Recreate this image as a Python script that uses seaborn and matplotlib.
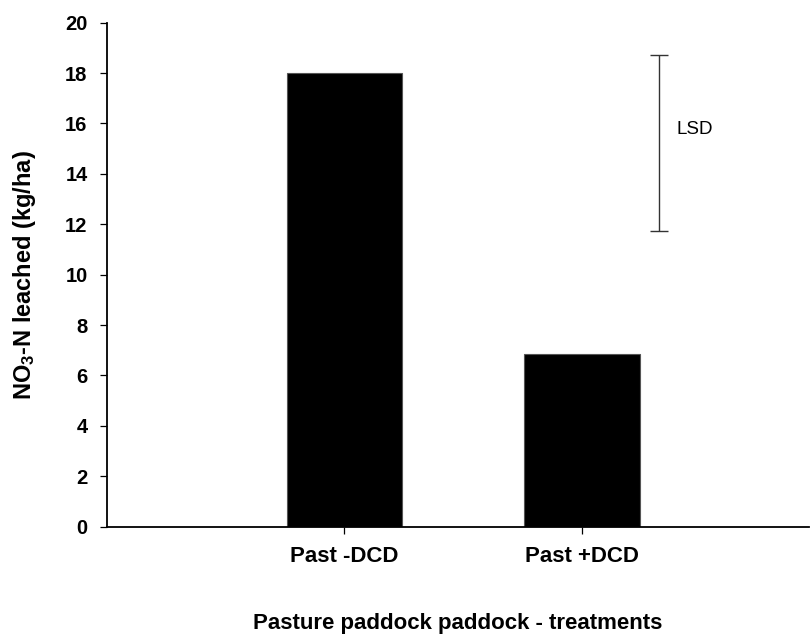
import pandas as pd
import matplotlib
matplotlib.use("Agg")
import matplotlib.pyplot as plt
import seaborn as sns

# =============================================================================
# DATA
# =============================================================================

TREATMENTS = ['Past -DCD', 'Past +DCD']
NO3_LEACHED = [18.0, 6.85]          # kg/ha
LSD_LOW = 11.73                     # LSD bar, bottom end
LSD_HIGH = 18.72                    # LSD bar, top end
Y_TICKS = list(range(0, 21, 2))

X_LABEL = "Pasture paddock paddock - treatments"
Y_LABEL = r"NO$_3$-N leached (kg/ha)"

# =============================================================================
# PLOT
# =============================================================================

def main():
    sns.set_theme(style="white")
    plt.rcParams['font.family'] = ['Liberation Sans', 'DejaVu Sans']
    plt.rcParams['text.color'] = 'black'
    plt.rcParams['axes.labelcolor'] = 'black'
    plt.rcParams['mathtext.fontset'] = 'custom'
    plt.rcParams['mathtext.rm'] = 'Liberation Sans:bold'
    plt.rcParams['mathtext.it'] = 'Liberation Sans:bold'
    plt.rcParams['mathtext.bf'] = 'Liberation Sans:bold'

    df = pd.DataFrame({'Treatment': TREATMENTS, 'NO3': NO3_LEACHED})

    fig = plt.figure(figsize=(8.1, 6.35), dpi=100)
    ax = fig.add_axes([0.1321, 0.1706, 0.8667, 0.7937])

    sns.barplot(data=df, x='Treatment', y='NO3', color='black',
                width=0.485, edgecolor='#555555', linewidth=0.8,
                saturation=1, ax=ax)

    # LSD bar, to the right of the second treatment
    lsd_mid = (LSD_LOW + LSD_HIGH) / 2
    lsd_half = (LSD_HIGH - LSD_LOW) / 2
    ax.errorbar([1.324], [lsd_mid], yerr=[lsd_half], fmt='none',
                ecolor='#333333', elinewidth=1.0, capsize=6.5, capthick=1.0)
    ax.text(1.396, lsd_mid + 0.55, "LSD", fontsize=13.5, ha='left',
            va='center', color='black')

    ax.set_xlim(-1.0, 1.956)
    ax.set_ylim(0, 20)
    ax.set_yticks(Y_TICKS)

    for side in ['top', 'right']:
        ax.spines[side].set_visible(False)
    for side in ['left', 'bottom']:
        ax.spines[side].set_linewidth(1.3)
        ax.spines[side].set_color('black')

    ax.tick_params(axis='y', direction='out', length=5, width=0.9,
                   labelsize=14.5, pad=9, left=True, colors='black')
    ax.tick_params(axis='x', direction='out', length=5, width=0.9,
                   labelsize=16, pad=9, bottom=True, colors='black')
    for lab in ax.get_xticklabels() + ax.get_yticklabels():
        lab.set_fontweight('bold')

    ax.set_xlabel(X_LABEL, fontsize=16, fontweight='bold')
    ax.xaxis.label.set_va('baseline')
    ax.xaxis.set_label_coords(0.5, -0.2024)
    ax.set_ylabel(Y_LABEL, fontsize=17, fontweight='bold')
    ax.yaxis.label.set_va('center')
    ax.yaxis.set_label_coords(-0.117, 0.5)

    ax.grid(False)
    fig.savefig("out.png", dpi=100)
    plt.close(fig)


if __name__ == "__main__":
    main()
